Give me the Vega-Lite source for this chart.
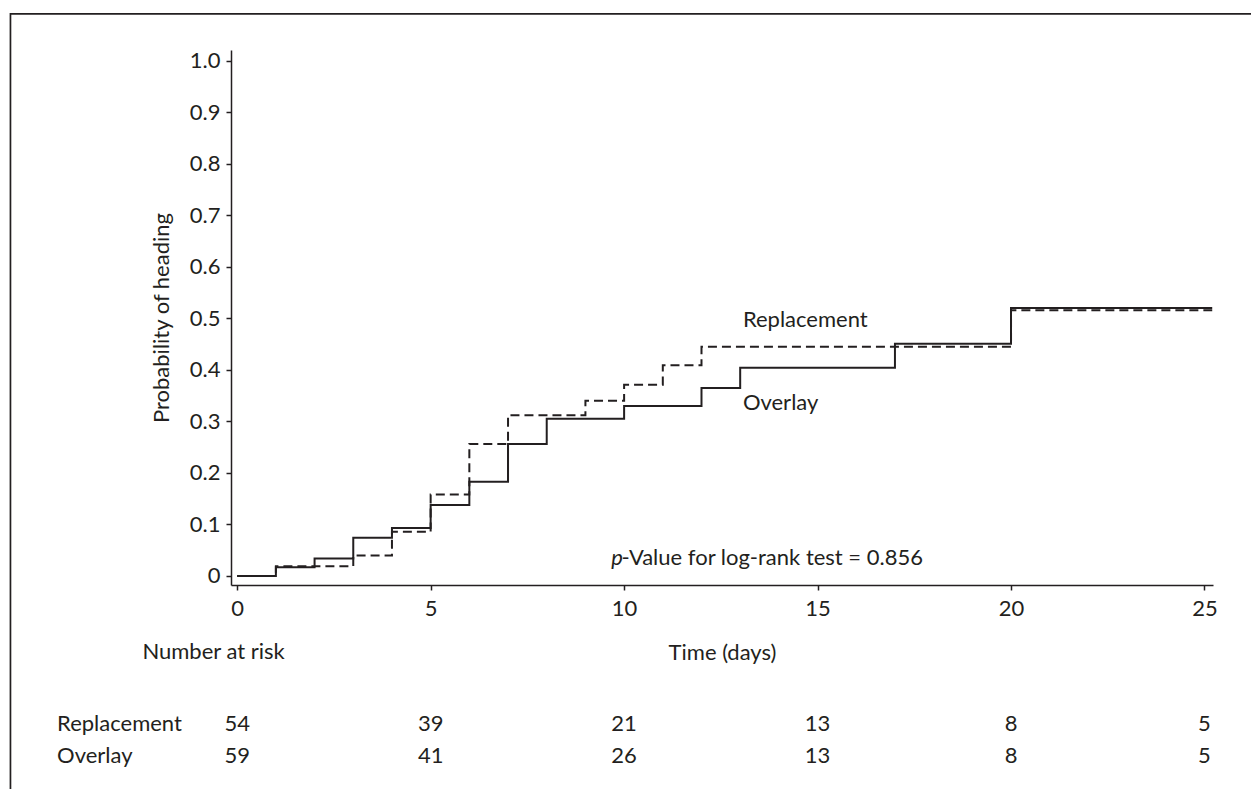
{
  "$schema": "https://vega.github.io/schema/vega-lite/v6.json",
  "width": 982,
  "height": 535,
  "autosize": {"type": "none"},
  "padding": {"left": 231, "top": 50, "right": 38, "bottom": 204},
  "background": "white",
  "datasets": {
    "km": [
      {"x": 0, "y": 0, "group": "Overlay"},
      {"x": 1, "y": 0.017, "group": "Overlay"},
      {"x": 2, "y": 0.034, "group": "Overlay"},
      {"x": 3, "y": 0.074, "group": "Overlay"},
      {"x": 4, "y": 0.093, "group": "Overlay"},
      {"x": 5, "y": 0.138, "group": "Overlay"},
      {"x": 6, "y": 0.183, "group": "Overlay"},
      {"x": 7, "y": 0.256, "group": "Overlay"},
      {"x": 8, "y": 0.305, "group": "Overlay"},
      {"x": 10, "y": 0.330, "group": "Overlay"},
      {"x": 12, "y": 0.365, "group": "Overlay"},
      {"x": 13, "y": 0.404, "group": "Overlay"},
      {"x": 17, "y": 0.451, "group": "Overlay"},
      {"x": 20, "y": 0.520, "group": "Overlay"},
      {"x": 25.2, "y": 0.520, "group": "Overlay"},
      {"x": 0, "y": 0, "group": "Replacement"},
      {"x": 1, "y": 0.019, "group": "Replacement"},
      {"x": 3, "y": 0.040, "group": "Replacement"},
      {"x": 4, "y": 0.086, "group": "Replacement"},
      {"x": 5, "y": 0.158, "group": "Replacement"},
      {"x": 6, "y": 0.256, "group": "Replacement"},
      {"x": 7, "y": 0.312, "group": "Replacement"},
      {"x": 9, "y": 0.340, "group": "Replacement"},
      {"x": 10, "y": 0.371, "group": "Replacement"},
      {"x": 11, "y": 0.409, "group": "Replacement"},
      {"x": 12, "y": 0.445, "group": "Replacement"},
      {"x": 20, "y": 0.516, "group": "Replacement"},
      {"x": 25.2, "y": 0.516, "group": "Replacement"}
    ],
    "risk": [
      {"x": 0, "group": "Replacement", "n": 54, "y": -0.3004},
      {"x": 5, "group": "Replacement", "n": 39, "y": -0.3004},
      {"x": 10, "group": "Replacement", "n": 21, "y": -0.3004},
      {"x": 15, "group": "Replacement", "n": 13, "y": -0.3004},
      {"x": 20, "group": "Replacement", "n": 8, "y": -0.3004},
      {"x": 25, "group": "Replacement", "n": 5, "y": -0.3004},
      {"x": 0, "group": "Overlay", "n": 59, "y": -0.3637},
      {"x": 5, "group": "Overlay", "n": 41, "y": -0.3637},
      {"x": 10, "group": "Overlay", "n": 26, "y": -0.3637},
      {"x": 15, "group": "Overlay", "n": 13, "y": -0.3637},
      {"x": 20, "group": "Overlay", "n": 8, "y": -0.3637},
      {"x": 25, "group": "Overlay", "n": 5, "y": -0.3637}
    ],
    "rowlabels": [
      {"x": -4.655, "y": -0.3004, "label": "Replacement"},
      {"x": -4.655, "y": -0.3637, "label": "Overlay"},
      {"x": -2.45, "y": -0.161, "label": "Number at risk"}
    ],
    "curvelabels": [
      {"x": 13.07, "y": 0.483, "label": "Replacement"},
      {"x": 13.07, "y": 0.3223, "label": "Overlay"}
    ],
    "pitalic": [{"x": 9.67, "y": 0.0214, "label": "p"}],
    "ptext": [{"x": 9.93, "y": 0.0214, "label": "-Value for log-rank test  =  0.856"}]
  },
  "layer": [
    {
      "data": {"values": [{}]},
      "mark": {"type": "rect", "fill": null, "stroke": "#231f20", "strokeWidth": 1.7, "clip": false},
      "encoding": {
        "x": {"datum": -5.86, "type": "quantitative", "scale": {"domain": [-0.16, 25.22], "nice": false, "zero": false}},
        "x2": {"datum": 28},
        "y": {"datum": 1.0913, "type": "quantitative", "scale": {"domain": [-0.0175, 1.021], "nice": false, "zero": false}},
        "y2": {"datum": -0.6}
      }
    },
    {
      "data": {"name": "km"},
      "mark": {"type": "line", "interpolate": "step-after", "color": "#231f20", "strokeWidth": 2, "clip": false},
      "encoding": {
        "x": {"field": "x", "type": "quantitative", "scale": {"domain": [-0.16, 25.22], "nice": false, "zero": false},
          "axis": {"values": [0, 5, 10, 15, 20, 25], "title": "Time (days)", "labelPadding": 8, "titlePadding": 23, "labelFlush": false}},
        "y": {"field": "y", "type": "quantitative", "scale": {"domain": [-0.0175, 1.021], "nice": false, "zero": false},
          "axis": {"values": [0, 0.1, 0.2, 0.3, 0.4, 0.5, 0.6, 0.7, 0.8, 0.9, 1.0], "labelExpr": "datum.value == 0 ? '0' : format(datum.value, '.1f')", "title": "Probability of heading", "labelPadding": 6, "titlePadding": 16}},
        "strokeDash": {"field": "group", "type": "nominal", "scale": {"domain": ["Overlay", "Replacement"], "range": [[1, 0], [9, 5]]}, "legend": null},
        "detail": {"field": "group"}
      }
    },
    {
      "data": {"name": "risk"},
      "mark": {"type": "text", "align": "center", "baseline": "alphabetic", "clip": false},
      "encoding": {
        "x": {"field": "x", "type": "quantitative", "scale": {"domain": [-0.16, 25.22], "nice": false, "zero": false}},
        "y": {"field": "y", "type": "quantitative", "scale": {"domain": [-0.0175, 1.021], "nice": false, "zero": false}},
        "text": {"field": "n"}
      }
    },
    {
      "data": {"name": "rowlabels"},
      "mark": {"type": "text", "align": "left", "baseline": "alphabetic", "clip": false},
      "encoding": {
        "x": {"field": "x", "type": "quantitative", "scale": {"domain": [-0.16, 25.22], "nice": false, "zero": false}},
        "y": {"field": "y", "type": "quantitative", "scale": {"domain": [-0.0175, 1.021], "nice": false, "zero": false}},
        "text": {"field": "label"}
      }
    },
    {
      "data": {"name": "curvelabels"},
      "mark": {"type": "text", "align": "left", "baseline": "alphabetic", "clip": false},
      "encoding": {
        "x": {"field": "x", "type": "quantitative", "scale": {"domain": [-0.16, 25.22], "nice": false, "zero": false}},
        "y": {"field": "y", "type": "quantitative", "scale": {"domain": [-0.0175, 1.021], "nice": false, "zero": false}},
        "text": {"field": "label"}
      }
    },
    {
      "data": {"name": "pitalic"},
      "mark": {"type": "text", "align": "left", "baseline": "alphabetic", "fontStyle": "italic", "clip": false},
      "encoding": {
        "x": {"field": "x", "type": "quantitative", "scale": {"domain": [-0.16, 25.22], "nice": false, "zero": false}},
        "y": {"field": "y", "type": "quantitative", "scale": {"domain": [-0.0175, 1.021], "nice": false, "zero": false}},
        "text": {"field": "label"}
      }
    },
    {
      "data": {"name": "ptext"},
      "mark": {"type": "text", "align": "left", "baseline": "alphabetic", "clip": false},
      "encoding": {
        "x": {"field": "x", "type": "quantitative", "scale": {"domain": [-0.16, 25.22], "nice": false, "zero": false}},
        "y": {"field": "y", "type": "quantitative", "scale": {"domain": [-0.0175, 1.021], "nice": false, "zero": false}},
        "text": {"field": "label"}
      }
    }
  ],
  "config": {
    "font": "Lato",
    "view": {"stroke": null},
    "axis": {
      "grid": false,
      "domainColor": "#231f20",
      "domainWidth": 1.5,
      "tickColor": "#231f20",
      "tickWidth": 1.5,
      "tickSize": 5,
      "labelFont": "Lato",
      "labelFontSize": 22,
      "labelColor": "#231f20",
      "titleFont": "Lato",
      "titleFontSize": 22,
      "titleFontWeight": "normal",
      "titleColor": "#231f20"
    },
    "text": {"font": "Lato", "fontSize": 22, "color": "#231f20"}
  }
}
